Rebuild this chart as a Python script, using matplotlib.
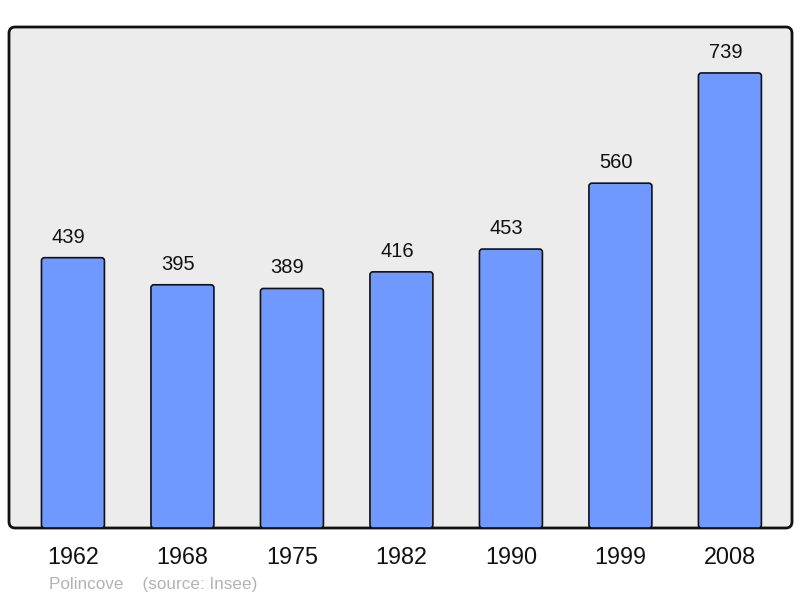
import matplotlib
matplotlib.use("Agg")
import matplotlib.pyplot as plt
from matplotlib.patches import FancyBboxPatch

years = ["1962", "1968", "1975", "1982", "1990", "1999", "2008"]
population = [439, 395, 389, 416, 453, 560, 739]
footer = "Polincove    (source: Insee)"

plt.rcParams['font.family'] = ['Liberation Sans', 'DejaVu Sans']

fig = plt.figure(figsize=(8.0, 5.98), dpi=100)
W, H = 800, 598
ax_w_px, ax_h_px = 792 - 9, 528 - 27
ax = fig.add_axes([9 / W, 1 - 528 / H, ax_w_px / W, ax_h_px / H])
ax.set_facecolor('none')
for s in ax.spines.values():
    s.set_visible(False)

frame = FancyBboxPatch((0, 0), 1, 1, boxstyle="round,pad=0,rounding_size=0.008",
                       transform=ax.transAxes, facecolor='#ececec', edgecolor='#111111',
                       linewidth=2, zorder=0, clip_on=False, mutation_aspect=ax_w_px / ax_h_px)
ax.add_patch(frame)

xlim = (-0.584, 6.567)
ylim = (0, 739 * 1.101)
ax.set_xlim(*xlim)
ax.set_ylim(*ylim)

x = list(range(len(years)))
bars = ax.bar(x, population, width=0.575, color='#7099ff', edgecolor='#111111',
              linewidth=1.2, zorder=2)

# rounded corners on bars
px_x = (xlim[1] - xlim[0]) / ax_w_px
px_y = (ylim[1] - ylim[0]) / ax_h_px
r = 3 * px_x
for b in bars:
    b.set_visible(False)
    fb = FancyBboxPatch((b.get_x(), b.get_y()), b.get_width(), b.get_height(),
                        boxstyle=f"round,pad=0,rounding_size={r}",
                        mutation_aspect=px_y / px_x,
                        facecolor='#7099ff', edgecolor='#111111', linewidth=1.2, zorder=2)
    ax.add_patch(fb)

for xi, v in zip(x, population):
    ax.annotate(str(v), (xi, v), xytext=(-3.3, 10.8), textcoords='offset points',
                ha='center', va='baseline', fontsize=14.5, color='#111111')

ax.set_xticks(x)
ax.set_xticklabels(years, fontsize=16.8, color='#111111')
ax.tick_params(axis='x', length=0, pad=13)
ax.set_yticks([])

fig.text(49 / W, 1 - 584 / H, footer, fontsize=12.3, color='#b3b3b3', ha='left', va='center')

fig.savefig("out.png", dpi=100)
